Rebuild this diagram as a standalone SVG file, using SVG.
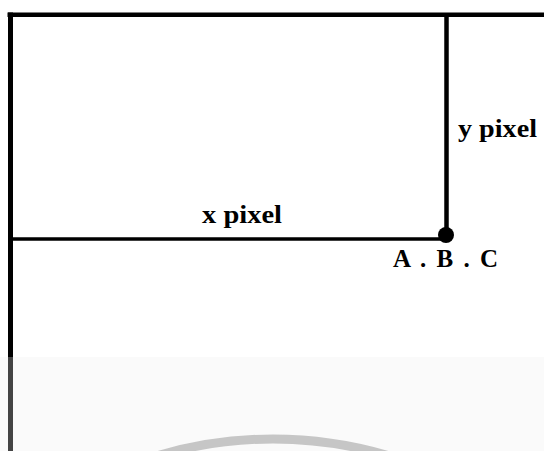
<svg xmlns="http://www.w3.org/2000/svg" width="544" height="451" viewBox="0 0 544 451">
  <style>
    .ln { stroke: #000; fill: none; stroke-linecap: butt; }
    .lbl { font-family: "Liberation Serif", "Times New Roman", serif; font-weight: bold; fill: #000; }
  </style>
  <rect x="0" y="0" width="544" height="451" fill="#ffffff"/>
  <rect x="0" y="357" width="544" height="94" fill="#fafafa"/>
  <g id="watermark">
    <circle cx="273" cy="845" r="406" fill="none" stroke="#c6c6c6" stroke-width="9"/>
  </g>
  <g id="frame">
    <line class="ln" x1="7.5" y1="14.7" x2="544" y2="14.7" stroke-width="4.5"/>
    <line class="ln" x1="10.5" y1="12.5" x2="10.5" y2="357" stroke-width="5"/>
    <line x1="10.5" y1="357" x2="10.5" y2="451" stroke="#444" stroke-width="5"/>
  </g>
  <g id="connectors">
    <line class="ln" x1="446.5" y1="16" x2="446.5" y2="235" stroke-width="4.5"/>
    <line class="ln" x1="10.5" y1="239" x2="446" y2="239" stroke-width="3.5"/>
  </g>
  <g id="point-abc">
    <circle cx="446" cy="235" r="8" fill="#000"/>
    <text class="lbl" x="393" y="267" font-size="25" textLength="105" lengthAdjust="spacing">A . B . C</text>
  </g>
  <g id="label-y">
    <text class="lbl" x="458" y="137" font-size="26" textLength="79" lengthAdjust="spacingAndGlyphs">y pixel</text>
  </g>
  <g id="label-x">
    <text class="lbl" x="202" y="223" font-size="25" textLength="80" lengthAdjust="spacingAndGlyphs">x pixel</text>
  </g>
</svg>
